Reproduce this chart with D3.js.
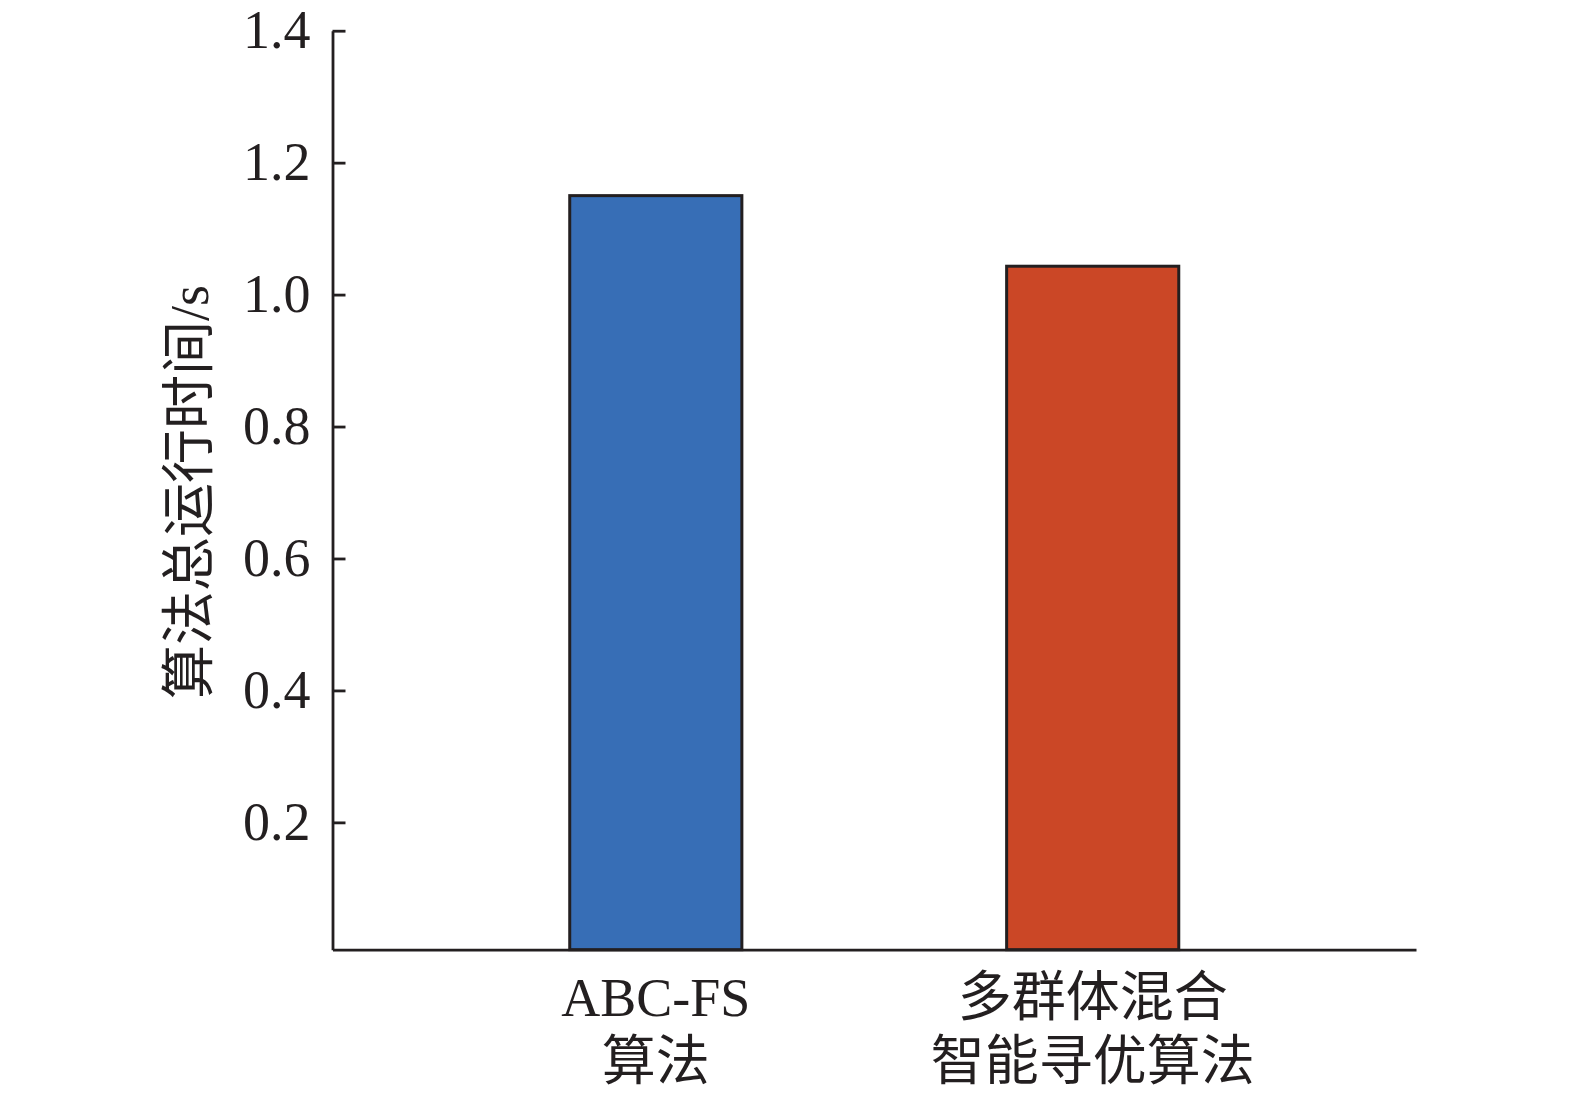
<!DOCTYPE html>
<html>
<head>
<meta charset="utf-8">
<script src="https://cdn.jsdelivr.net/npm/d3@7"></script>
<style>
body { margin:0; background:#fff; }
text { font-family:"Liberation Serif","Noto Sans CJK SC",serif; fill:#231f20; }
</style>
</head>
<body>
<svg id="chart"></svg>
<script>
// data
var categories = ["ABC-FS\n算法", "多群体混合\n智能寻优算法"];
var runTimes = [1.150, 1.043];
var barColors = ["#376eb6", "#cb4726"];
var yTicks = [0.2, 0.4, 0.6, 0.8, 1.0, 1.2, 1.4];
var yTitle = "算法总运行时间/s";

var W = 1575, H = 1100;
var plotLeft = 332.5, plotRight = 1416, plotTop = 30.7, plotBottom = 949.7;

var svg = d3.select("#chart")
.attr("width", W)
.attr("height", H);

// x scale
var x = d3.scaleBand()
.domain(categories)
.range([plotLeft, plotRight])
.paddingInner(0.606)
.paddingOuter(0.543);

// y scale (axis bottom sits a little above 0)
var y = d3.scaleLinear()
.domain([0.007, 1.4])
.range([plotBottom, plotTop]);

// bars
svg.selectAll("rect.bar")
.data(runTimes)
.enter()
.append("rect")
.attr("class", "bar")
.attr("x", function(d, i){ return x(categories[i]); })
.attr("y", function(d){ return y(d); })
.attr("width", x.bandwidth())
.attr("height", function(d){ return plotBottom - y(d); })
.attr("fill", function(d, i){ return barColors[i]; })
.attr("stroke", "#231f20")
.attr("stroke-width", 3);

// y axis
var gy = svg.append("g")
.attr("transform", "translate(" + plotLeft + ",0)")
.call(d3.axisLeft(y).tickValues(yTicks).tickFormat(d3.format(".1f")).tickSize(-13).tickSizeOuter(0).tickPadding(22));
gy.select(".domain").attr("stroke", "#231f20").attr("stroke-width", 2.8);
gy.selectAll(".tick line").attr("stroke", "#231f20").attr("stroke-width", 2.8);
gy.selectAll(".tick text")
.style("font-size", "54px")
.style("font-family", "Liberation Serif")
.attr("fill", "#231f20");

// x axis
var gx = svg.append("g")
.attr("transform", "translate(0," + plotBottom + ")")
.call(d3.axisBottom(x).tickSize(0).tickSizeOuter(0));
gx.select(".domain").attr("stroke", "#231f20").attr("stroke-width", 2.8);
gx.selectAll(".tick text").each(function(d){
  var t = d3.select(this);
  t.text(null).attr("y", 0).attr("dy", null)
   .style("font-size", "54px").attr("fill", "#231f20");
  d.split("\n").forEach(function(line, i){
    t.append("tspan").attr("x", 0).attr("y", 66 + i * 64).text(line);
  });
});

// y title
svg.append("text")
.attr("transform", "translate(208,492)rotate(-90)")
.attr("text-anchor", "middle")
.style("font-size", "54px")
.text(yTitle);
</script>
</body>
</html>
